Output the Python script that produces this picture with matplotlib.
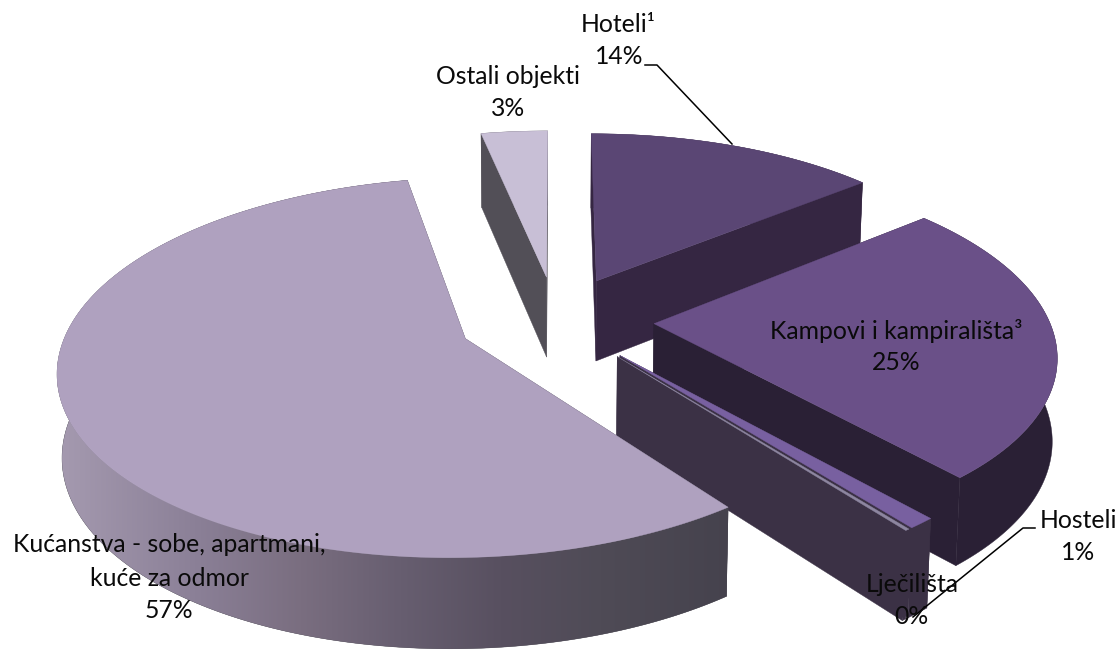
import numpy as np
import matplotlib
matplotlib.use('Agg')
import matplotlib.pyplot as plt
from matplotlib.patches import Polygon

plt.rcParams['font.family'] = ['Lato', 'DejaVu Sans']

names = ['Hoteli', 'Kampovi', 'Hosteli', 'Ljecilista', 'Kucanstva', 'Ostali']
values = [14.0, 24.6, 0.95, 0.15, 57.1, 3.2]
top_colors = ['#5a4674', '#6a5088', '#7860a0', '#8d86a0', '#afa1bf', '#c8bfd6']
side_colors = ['#352642', '#2a2035', '#3b3145', '#3b3145', '#45424d', '#524f57']
# drawn back to front
draw_order = [5, 0, 1, 2, 3, 4]
wall_x = [58, 200, 300, 400, 500, 600, 733]
wall_rgb = [(165, 154, 176), (138, 127, 150), (122, 110, 128), (103, 94, 112), (88, 80, 96), (79, 75, 86), (69, 66, 77)]

# fake 3d view of the pie
cx, cy = 556, 320
rx, ry = 395, 180
persp = 0.15
explode = 0.248
depth = 80


def project(X, Y):
    s = 1 / (1 + persp * Y)
    return cx + rx * X * s, cy - ry * Y * s


def drop(x, y):
    return cx + (x - cx) * 0.99, y + depth + (y - 279) * 0.04


def poly(ax, xs, ys, color, z):
    p = Polygon(np.column_stack([xs, ys]), closed=True, fc=color, ec=color, lw=0.3, zorder=z)
    ax.add_patch(p)
    return p


fig = plt.figure(figsize=(11.2, 6.51), dpi=100)
ax = fig.add_axes([0, 0, 1, 1])

edges = np.cumsum([0] + values) / sum(values) * 2 * np.pi

for order, i in enumerate(draw_order):
    t0, t1 = edges[i], edges[i + 1]
    mid = (t0 + t1) / 2
    ox, oy = explode * np.sin(mid), explode * np.cos(mid)
    t = np.linspace(t0, t1, 300)
    ax_x, ax_y = project(ox, oy)
    arc_x, arc_y = project(ox + np.sin(t), oy + np.cos(t))
    low_x, low_y = drop(arc_x, arc_y)
    apex_lx, apex_ly = drop(ax_x, ax_y)
    z = order * 10

    # radial faces
    for j in (0, -1):
        poly(ax, [ax_x, arc_x[j], low_x[j], apex_lx], [ax_y, arc_y[j], low_y[j], apex_ly], side_colors[i], z + 1)

    # outer wall
    wall = poly(ax, np.r_[arc_x, low_x[::-1]], np.r_[arc_y, low_y[::-1]], side_colors[i], z + 2)
    if names[i] == 'Kucanstva':
        xs = np.arange(0, 800)
        grad = np.column_stack([np.interp(xs, wall_x, [c[k] for c in wall_rgb]) for k in range(3)]) / 255
        im = ax.imshow(grad[np.newaxis, :, :], extent=(0, 800, 651, 0), aspect='auto', zorder=z + 2.5)
        im.set_clip_path(wall)

    # top face
    poly(ax, np.r_[ax_x, arc_x], np.r_[ax_y, arc_y], top_colors[i], z + 3)

ax.set_xlim(0, 1120)
ax.set_ylim(651, 0)
ax.axis('off')

# leader lines
ax.plot([645, 657, 732], [65, 65, 144], color='k', lw=1.1, zorder=90)
ax.plot([1035, 1023, 913], [528, 528, 617], color='k', lw=1.1, zorder=90)

# labels
pct = [f'{v:.0f}%' for v in values]
lab = dict(fontsize=17.8, ha='center', va='center', color='#0a0a0a', zorder=100)
ax.text(618, 25, 'Hoteli\u00b9', **lab)
ax.text(619, 57, pct[0], **lab)
ax.text(896, 331, 'Kampovi i kampirališta\u00b3', **lab)
ax.text(896, 363, pct[1], **lab)
ax.text(1078, 520, 'Hosteli', **lab)
ax.text(1078, 553, pct[2], **lab)
ax.text(912, 585, 'Lječilišta', **lab)
ax.text(911, 617, pct[3], **lab)
ax.text(169, 545, 'Kućanstva - sobe, apartmani,', **lab)
ax.text(169, 578, 'kuće za odmor', **lab)
ax.text(169, 611, pct[4], **lab)
ax.text(508, 77, 'Ostali objekti', **lab)
ax.text(508, 109, pct[5], **lab)

fig.savefig('out.png', dpi=100)
